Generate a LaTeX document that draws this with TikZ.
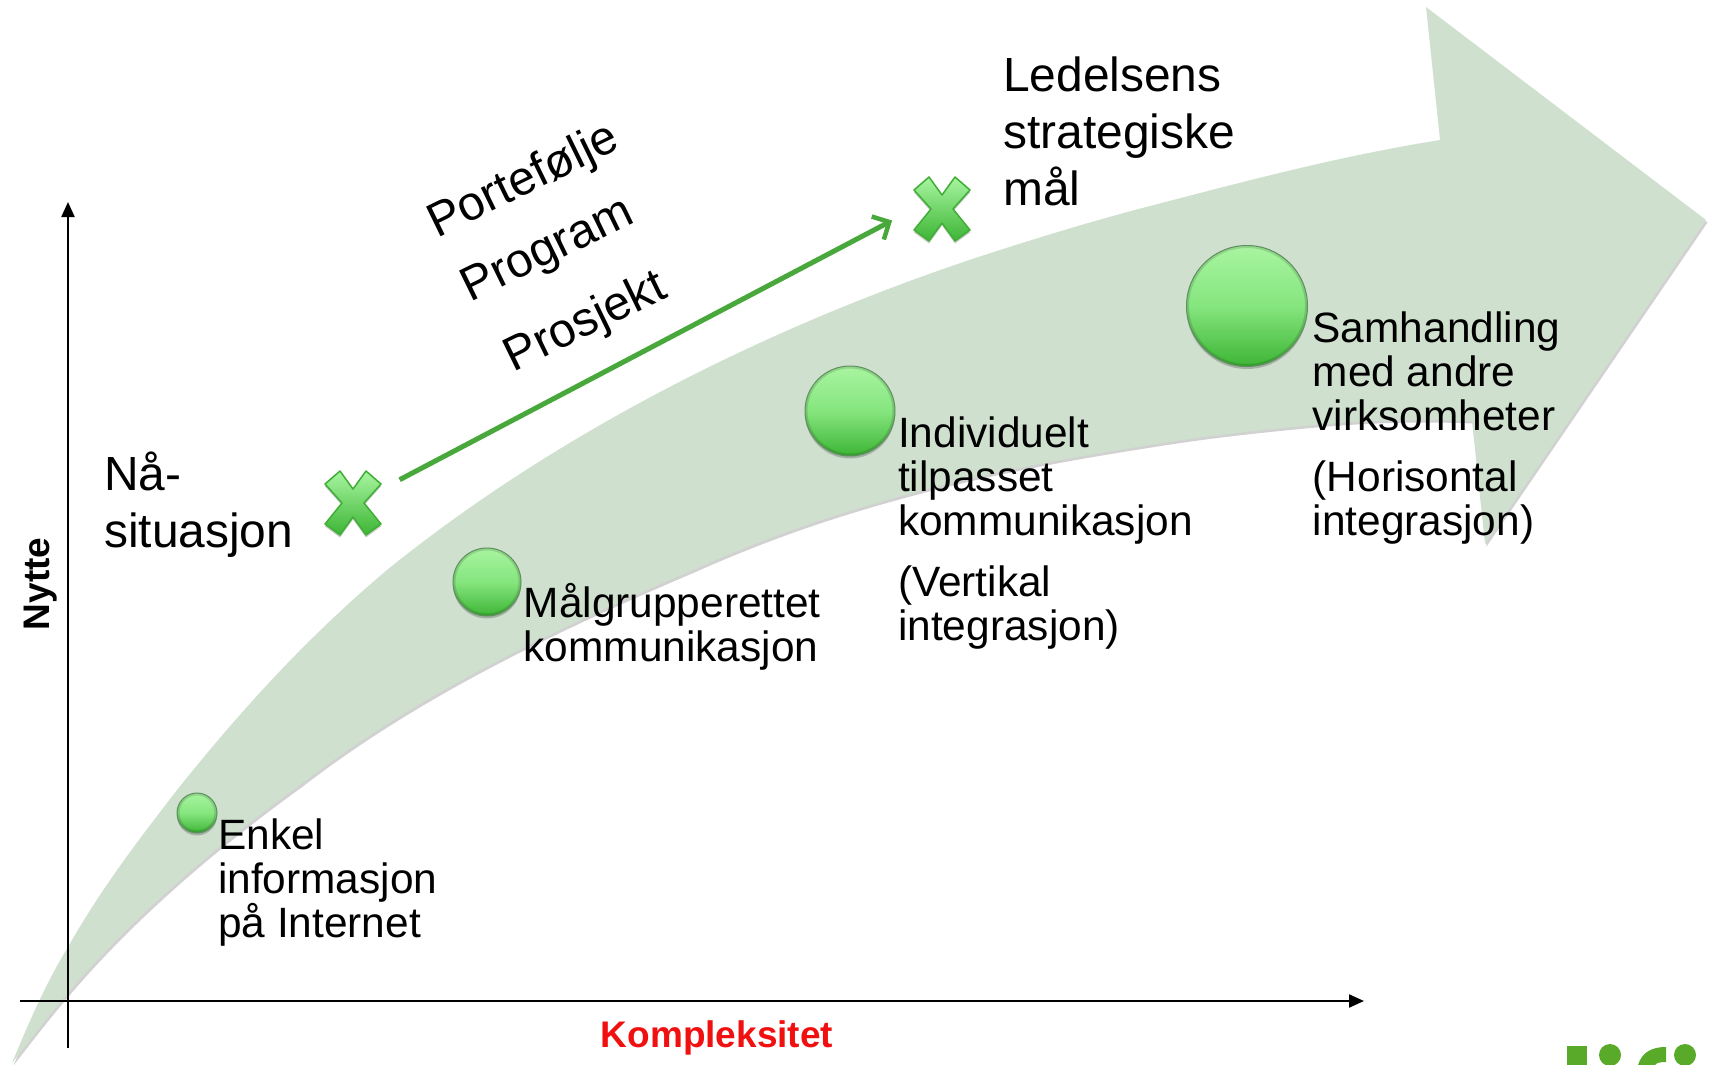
\documentclass[tikz,border=0pt]{standalone}
\usepackage{fontspec}
\setmainfont{Liberation Sans}
\usetikzlibrary{arrows.meta,shadows}
\definecolor{bandgreen}{HTML}{CFE0CF}
\definecolor{balltop}{HTML}{A8F5A0}
\definecolor{ballmid}{HTML}{85E57E}
\definecolor{ballbot}{HTML}{3DB535}
\definecolor{ballrim}{HTML}{5E8F5E}
\definecolor{linegreen}{HTML}{49A83C}
\definecolor{crossrim}{HTML}{3FAE35}
\definecolor{logogreen}{HTML}{5AAA2A}
\definecolor{kred}{HTML}{F01010}
\tikzset{
  ball/.style={circle,inner sep=0pt,minimum size=#1,draw=ballrim,line width=1pt,
    top color=balltop,bottom color=ballbot,middle color=ballmid,
    drop shadow={shadow xshift=0pt,shadow yshift=-2.5pt,opacity=.4,fill=black!60},
    path picture={\draw[black,opacity=.13,line width=3pt] (path picture bounding box.center) circle (#1/2-1pt);}},
  crossanchor/.style={circle,inner sep=0pt,minimum size=102pt},
  crossshape/.style={draw=crossrim,line width=1.5pt,top color=balltop,bottom color=ballbot,line join=round,
    drop shadow={shadow xshift=0pt,shadow yshift=-2.5pt,opacity=.35,fill=black!60}},
  small/.style={font=\fontsize{42.4}{44.4}\selectfont,align=left,anchor=north west,inner sep=0pt},
  large/.style={font=\fontsize{47.9}{57.3}\selectfont,align=left,anchor=north west,inner sep=0pt},
  slanted/.style={font=\fontsize{48}{57}\selectfont,inner sep=0pt,rotate=26},
  axislabel/.style={font=\fontsize{37}{44}\selectfont\bfseries,inner sep=0pt},
  axisline/.style={line width=2.2pt,black,-{Triangle[length=15pt,width=13pt]}},
  goalarrow/.style={linegreen,line width=5pt,-{Straight Barb[length=13pt,width=26pt,line width=4.5pt]}},
  logopart/.style={fill=logogreen,draw=none}
}
\newcommand{\crosspath}{(-13,-32) -- (0,-14) -- (13,-32) -- (28,-19) -- (11,0) -- (28,21) -- (13,32) -- (0,14) -- (-13,32) -- (-28,21) -- (-11,0) -- (-28,-19) -- cycle}
\begin{document}
\begin{tikzpicture}[x=1pt,y=-1pt]
\useasboundingbox (0,0) rectangle (1711,1065);
\clip (0,0) rectangle (1711,1065);
% band arrow shadow and body
\def\bandpath{(12,1063)
  .. controls (30,1020) and (45,985) .. (68,947)
  .. controls (102,887) and (140,838) .. (177,790)
  .. controls (245,705) and (310,635) .. (387,570)
  .. controls (560,430) and (780,320) .. (1000,250)
  .. controls (1050,234) and (1100,219) .. (1150,206)
  .. controls (1250,180) and (1340,156) .. (1440,140)
  -- (1426,7) -- (1706,220) -- (1485,544) -- (1472,421)
  .. controls (1420,419) and (1370,420) .. (1315,425)
  .. controls (1260,430) and (1205,436) .. (1150,445)
  .. controls (1060,459) and (980,474) .. (898,497)
  .. controls (825,517) and (760,540) .. (693,570)
  .. controls (540,635) and (410,700) .. (300,785)
  .. controls (210,850) and (130,920) .. (68,993)
  .. controls (45,1020) and (30,1040) .. (12,1063) -- cycle}
\fill[black!45,opacity=.4,shift={(1.5,2.5)}] \bandpath;
\fill[bandgreen] \bandpath;
% axes
\coordinate (xstart) at (20,1001);
\coordinate (xend) at (1364,1001);
\coordinate (ystart) at (68,1048);
\coordinate (yend) at (68,202);
\draw[axisline] (xstart) -- (xend);
\draw[axisline] (ystart) -- (yend);
\node[axislabel,text=kred] (kompl) at (717,1038) {Kompleksitet};
\node[axislabel,rotate=90] (nytte) at (41,584) {Nytte};
% balls
\node[ball=40pt] (b1) at (197,813) {};
\node[ball=68pt] (b2) at (487,582) {};
\node[ball=90pt] (b3) at (850,411) {};
\node[ball=121pt] (b4) at (1247,306) {};
% crosses
\node[crossanchor] (xa) at (354,503) {};
\node[crossanchor] (xb) at (942,209) {};
\path[crossshape,shift={(353,503)}] \crosspath;
\path[crossshape,shift={(942,209)}] \crosspath;
\draw[goalarrow] (xa.27) -- (xb.193);
% texts
\node[small] (t1) at (218,817.9) {\strut Enkel\\informasjon\\på Internet};
\node[small] (t2) at (523.5,582.9) {\strut Målgrupperettet\\kommunikasjon};
\node[small] (t3) at (898,415.9) {\strut Individuelt\\tilpasset\\kommunikasjon\\[16pt](Vertikal\\integrasjon)};
\node[small] (t4) at (1312.5,310.9) {\strut Samhandling\\med andre\\virksomheter\\[16pt](Horisontal\\integrasjon)};
\node[large] (t5) at (104,450) {\strut Nå-\\situasjon};
\node[large] (t6) at (1003,50.7) {\strut Ledelsens\\strategiske\\mål};
\node[slanted] (p1) at (524,182) {Portefølje};
\node[slanted] (p2) at (548.5,252) {Program};
\node[slanted] (p3) at (586,323.5) {Prosjekt};
% logo fragments
\fill[logopart] (1567,1046) rectangle (1587,1065);
\fill[logopart] (1610,1055) circle (11);
\fill[logopart] (1638,1065) .. controls (1642,1052) and (1652,1047) .. (1666,1047) -- (1666,1062) .. controls (1660,1062) and (1656,1063) .. (1655,1065) -- cycle;
\fill[logopart] (1685,1055) circle (11);
\end{tikzpicture}
\end{document}
